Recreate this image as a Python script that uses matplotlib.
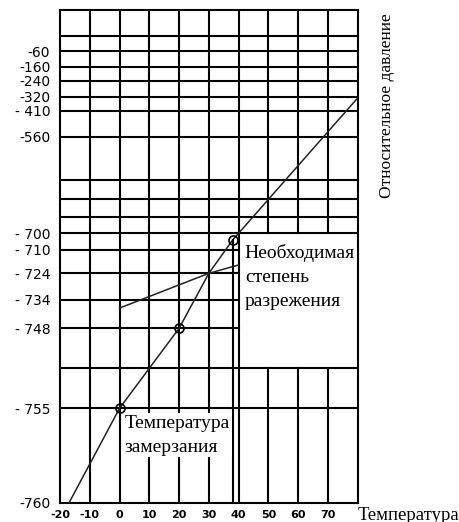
import numpy as np
import matplotlib.pyplot as plt

# данные
temp_ticks = [-20, -10, 0, 10, 20, 30, 40, 50, 60, 70]
pressure_ticks = [-760, -755, -748, -734, -724, -710, -700, -560, -410, -320, -240, -160, -60]
pressure_labels = ['-760', '- 755', '- 748', '- 734', '- 724', '- 710', '- 700',
                   '-560', '- 410', '-320', '-240', '-160', '-60']

# основная кривая (давление насыщения)
curve1_temp = [-17, 0, 20, 30, 38, 80]
curve1_pres = [-760, -755, -748, -724, -704, -328]
# вторая, пологая линия
curve2_temp = [0, 30, 40]
curve2_pres = [-738, -724, -719]
# отмеченные точки
mark_temp = [0, 20, 38]
mark_pres = [-755, -748, -704]

# неравномерная шкала по оси давления (доля высоты осей для каждой метки)
scale_vals = pressure_ticks + [0]
scale_pos = [0, 0.1921, 0.3544, 0.4118, 0.4659, 0.5132, 0.5471,
             0.7430, 0.7957, 0.8241, 0.8560, 0.8850, 0.9168, 1.0]


def fwd(v):
    return np.interp(v, scale_vals, scale_pos)


def inv(p):
    return np.interp(p, scale_pos, scale_vals)


fig = plt.figure(figsize=(4.59, 5.22), dpi=100)
ax = fig.add_axes([60 / 459, 19 / 522, 297.7 / 459, 493 / 522])
ax.set_yscale('function', functions=(fwd, inv))
ax.set_xlim(-20, 80)
ax.set_ylim(-760, 0)

grid = dict(color='black', lw=1.5, zorder=1)

# вертикальная сетка
for t in [-10, 0, 10, 20, 30, 40]:
    ax.axvline(t, **grid)
for t in [50, 60, 70]:
    ax.axvline(t, ymin=0, ymax=0.2732, **grid)
    ax.axvline(t, ymin=0.5471, ymax=1, **grid)

# горизонтальная сетка
for p in [-755, -700, -560, -410, -320, -240, -160, -60]:
    ax.axhline(p, **grid)
for p in [-748, -734, -724, -710]:
    ax.axhline(p, xmin=0, xmax=0.6, **grid)
for f in [0.2732, 0.5807, 0.6160, 0.6552, 0.9473]:
    ax.plot([0, 1], [f, f], transform=ax.transAxes, **grid)

# кривые
ax.plot(curve1_temp, curve1_pres, color='#222222', lw=1.1, zorder=3)
ax.plot(curve2_temp, curve2_pres, color='#222222', lw=1.1, zorder=3)
ax.plot([mark_temp[2], mark_temp[2]], [mark_pres[2], -760], color='black', lw=1.5, zorder=3)
ax.plot(mark_temp, mark_pres, 'o', ms=6.5, mfc='none', mec='black', mew=1.2, zorder=4)

for s in ax.spines.values():
    s.set_linewidth(1.5)

ax.set_xticks(temp_ticks)
ax.set_xticklabels([str(t) for t in temp_ticks], fontsize=8, family='DejaVu Sans',
                   fontweight='bold')
ax.set_yticks(pressure_ticks)
ax.set_yticklabels(pressure_labels, fontsize=10, family='DejaVu Sans')
ax.yaxis.set_minor_locator(plt.NullLocator())
ax.tick_params(axis='both', length=0)
ax.tick_params(axis='y', pad=7)
ax.tick_params(axis='x', pad=5)

serif = 'Liberation Serif'
ax.text(0.621, 0.525, 'Необходимая\nстепень\nразрежения', transform=ax.transAxes,
        ha='left', va='top', fontsize=14, family=serif, linespacing=1.55, zorder=5)
ax.text(0.218, 0.179, 'Температура\nзамерзания', transform=ax.transAxes,
        ha='left', va='top', fontsize=14, family=serif, linespacing=1.55, zorder=5,
        bbox=dict(facecolor='white', edgecolor='none', pad=1.0))

fig.text(358 / 459, (522 - 515) / 522, 'Температура', ha='left', va='center',
         fontsize=13.5, family=serif)
fig.text(387 / 459, (522 - 106) / 522, 'Относительное давление', ha='center', va='center',
         rotation=90, fontsize=12.5, family=serif)

plt.savefig('out.png', dpi=100)
